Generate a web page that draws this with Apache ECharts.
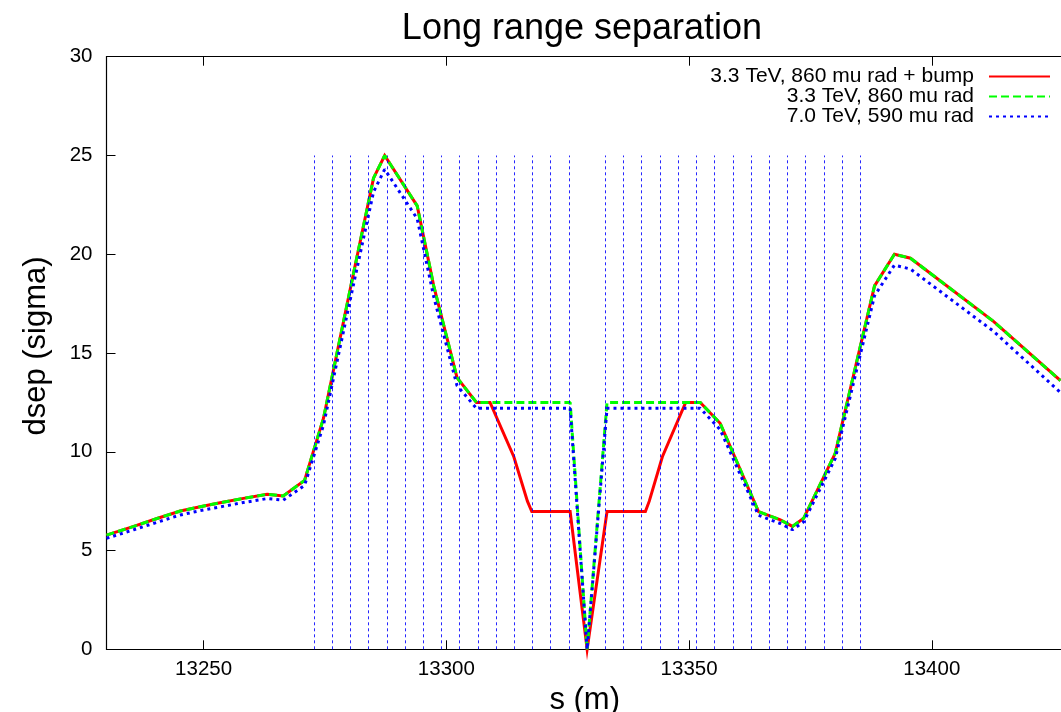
<!DOCTYPE html>
<html><head><meta charset="utf-8">
<script src="https://cdn.jsdelivr.net/npm/echarts@6/dist/echarts.min.js"></script>
<style>html,body{margin:0;padding:0;background:#fff}#c{width:1061px;height:712px}</style>
</head><body><div id="c"></div>
<script>
// 3.3 TeV, 860 mu rad + bump
const sBump = [13230, 13235.6, 13240.4, 13245.2, 13249.3, 13253.4, 13258.2, 13263.1, 13266.4, 13270.8,
  13274.7, 13280.6, 13285.0, 13287.3, 13294.0, 13297.4, 13302.2, 13306.2, 13309.0, 13313.9,
  13316.7, 13317.6, 13325.5, 13329.0, 13333.1, 13341.0, 13341.8, 13344.5, 13349.3, 13352.3,
  13356.4, 13364.3, 13368.8, 13371.3, 13373.6, 13380.1, 13388.2, 13392.3, 13395.6, 13412.7, 13426.5];
const dsepBump = [5.78, 6.22, 6.62, 7.0, 7.22, 7.42, 7.64, 7.85, 7.76, 8.55,
  11.7, 18.7, 23.85, 25.0, 22.45, 18.4, 13.75, 12.5, 12.5, 9.75,
  7.5, 6.97, 6.97, 0, 6.97, 6.97, 7.5, 9.75, 12.5, 12.5,
  11.44, 6.97, 6.55, 6.22, 6.63, 9.92, 18.4, 20.0, 19.8, 16.6, 13.6];

// 3.3 TeV, 860 mu rad
const s33 = [13230, 13235.6, 13240.4, 13245.2, 13249.3, 13253.4, 13258.2, 13263.1, 13266.4, 13270.8,
  13274.7, 13280.6, 13285.0, 13287.3, 13294.0, 13297.4, 13302.2, 13306.2, 13325.5, 13329.0,
  13333.1, 13352.3, 13356.4, 13364.3, 13368.8, 13371.3, 13373.6, 13380.1, 13388.2, 13392.3,
  13395.6, 13412.7, 13426.5];
const dsep33 = [5.78, 6.22, 6.62, 7.0, 7.22, 7.42, 7.64, 7.85, 7.76, 8.55,
  11.7, 18.7, 23.85, 25.0, 22.45, 18.4, 13.75, 12.5, 12.5, 0,
  12.5, 12.5, 11.44, 6.97, 6.55, 6.22, 6.63, 9.92, 18.4, 20.0,
  19.8, 16.6, 13.6];

// 7.0 TeV, 590 mu rad
const s70 = [13230, 13235.6, 13240.4, 13245.2, 13249.3, 13253.4, 13258.2, 13263.1, 13266.4, 13270.8,
  13274.7, 13280.6, 13285.0, 13287.3, 13294.0, 13297.4, 13302.2, 13306.2, 13325.5, 13329.0,
  13333.1, 13352.3, 13356.4, 13364.3, 13368.8, 13371.3, 13373.6, 13380.1, 13388.2, 13392.3,
  13395.6, 13412.7, 13426.5];
const dsep70 = [5.62, 6.05, 6.43, 6.8, 7.02, 7.21, 7.43, 7.63, 7.55, 8.3,
  11.35, 18.15, 23.15, 24.3, 21.8, 17.85, 13.35, 12.2, 12.2, 0,
  12.2, 12.2, 11.12, 6.78, 6.37, 6.05, 6.45, 9.65, 17.9, 19.45,
  19.25, 16.1, 13.0];

// long-range encounter positions (vertical markers), drawn from 0 to 25
const encounterS = [13272.75, 13276.5, 13280.25, 13284.0, 13287.75, 13291.5, 13295.25, 13299.0,
  13302.75, 13306.5, 13310.25, 13314.0, 13317.75, 13321.5, 13325.25,
  13332.75, 13336.5, 13340.25, 13344.0, 13347.75, 13351.5, 13355.25, 13359.0,
  13362.75, 13366.5, 13370.25, 13374.0, 13377.75, 13381.5, 13385.25];
const encounterTop = 25;

const xTicks = [13250, 13300, 13350, 13400];
const seriesNames = ['3.3 TeV, 860 mu rad + bump', '3.3 TeV, 860 mu rad', '7.0 TeV, 590 mu rad'];

const FONT = 'Liberation Sans, Arial, Helvetica, sans-serif';
const pairs = (xs, ys) => xs.map((x, i) => [x, ys[i]]);

const chart = echarts.init(document.getElementById('c'), null, {renderer: 'canvas'});
chart.setOption({
  animation: false,
  backgroundColor: '#ffffff',
  textStyle: {fontFamily: FONT},
  title: {
    text: 'Long range separation',
    left: 577, top: 6, textAlign: 'center',
    textStyle: {fontSize: 36, fontWeight: 'normal', color: '#000', fontFamily: FONT}
  },
  legend: {
    orient: 'vertical', align: 'right', right: 10, top: 66, padding: 0,
    itemWidth: 61, itemHeight: 14, itemGap: -1, selectedMode: false,
    itemStyle: {opacity: 0},
    textStyle: {fontSize: 21, color: '#000', fontFamily: FONT, padding: [0, 10, 0, 0]},
    data: seriesNames
  },
  grid: {left: 106.5, top: 56.7, width: 956.4, bottom: 62.7, containLabel: false, outerBoundsMode: 'none'},
  xAxis: [{
    type: 'value', min: 13230, max: 13427, position: 'bottom',
    name: 's (m)', nameLocation: 'middle', nameGap: 27,
    nameTextStyle: {fontSize: 31, color: '#000', fontFamily: FONT},
    axisLine: {show: true, onZero: false, lineStyle: {color: '#000', width: 1.2}},
    axisTick: {show: true, inside: true, length: 9, customValues: xTicks, lineStyle: {color: '#000'}},
    axisLabel: {show: true, customValues: xTicks, margin: 10, fontSize: 20.5, color: '#000', fontFamily: FONT,
      formatter: v => String(v)},
    splitLine: {show: false}
  }, {
    type: 'value', min: 13230, max: 13427, position: 'top',
    axisLine: {show: true, onZero: false, lineStyle: {color: '#000', width: 1.2}},
    axisTick: {show: true, inside: true, length: 9, customValues: xTicks, lineStyle: {color: '#000'}},
    axisLabel: {show: false},
    splitLine: {show: false}
  }],
  yAxis: [{
    type: 'value', min: 0, max: 30, interval: 5, position: 'left',
    name: 'dsep (sigma)', nameLocation: 'middle', nameGap: 55, nameRotate: 90,
    nameTextStyle: {fontSize: 31, color: '#000', fontFamily: FONT, padding: [0, 0, 0, 14]},
    axisLine: {show: true, onZero: false, lineStyle: {color: '#000', width: 1.2}},
    axisTick: {show: true, inside: true, length: 9, lineStyle: {color: '#000'}},
    axisLabel: {show: true, margin: 14, fontSize: 20.5, color: '#000', fontFamily: FONT},
    splitLine: {show: false}
  }],
  series: [{
    name: 'encounters', type: 'line', data: [], silent: true, legendHoverLink: false,
    markLine: {
      silent: true, symbol: ['none', 'none'], label: {show: false},
      lineStyle: {color: '#0000ff', width: 1, type: [3, 3], opacity: 0.85},
      emphasis: {disabled: true},
      data: encounterS.map(s => [{coord: [s, 0]}, {coord: [s, encounterTop]}])
    }
  }, {
    name: seriesNames[0], type: 'line', data: pairs(sBump, dsepBump),
    symbol: 'none', showSymbol: false, clip: false, z: 3,
    lineStyle: {color: '#ff0000', width: 3, join: 'miter', miterLimit: 10},
    itemStyle: {color: '#ff0000'}
  }, {
    name: seriesNames[1], type: 'line', data: pairs(s33, dsep33),
    symbol: 'none', showSymbol: false, clip: false, z: 4,
    lineStyle: {color: '#00ff00', width: 3, type: [8, 4]},
    itemStyle: {color: '#00ff00'}
  }, {
    name: seriesNames[2], type: 'line', data: pairs(s70, dsep70),
    symbol: 'none', showSymbol: false, clip: false, z: 5,
    lineStyle: {color: '#0000ff', width: 3, type: [3, 4]},
    itemStyle: {color: '#0000ff'}
  }]
});
</script>
</body></html>
